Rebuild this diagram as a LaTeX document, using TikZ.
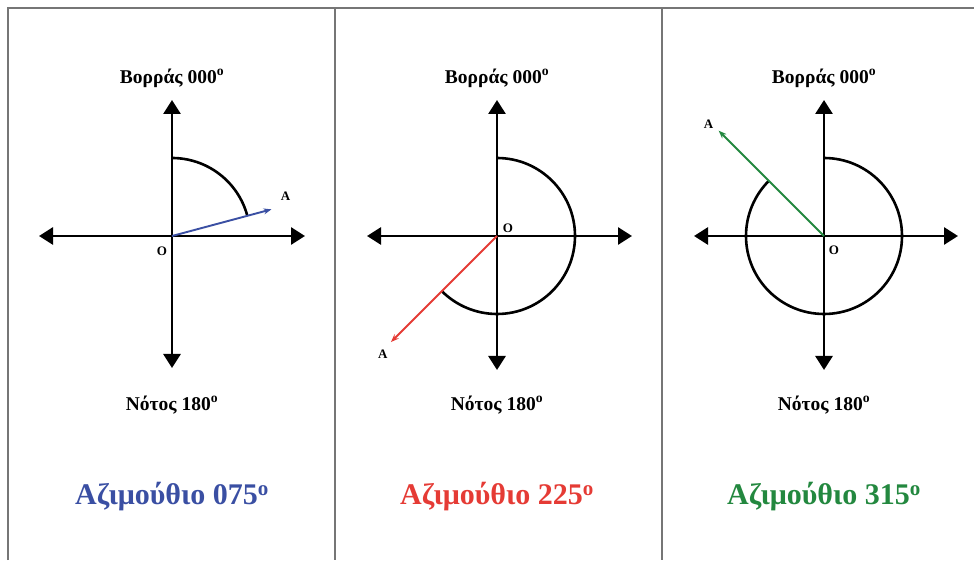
\documentclass[tikz,border=0pt]{standalone}
\usepackage{fontspec}
\setmainfont{Liberation Serif}
\usetikzlibrary{arrows.meta}
\definecolor{FrameGray}{HTML}{767676}
\definecolor{AzBlue}{HTML}{3A4FA3}
\definecolor{AzRed}{HTML}{E53B35}
\definecolor{AzGreen}{HTML}{23883F}

\begin{document}
\begin{tikzpicture}[x=1pt, y=1pt,
    frame/.style={draw=FrameGray, line width=1.8pt},
    axis/.style={line width=2.8pt, {Triangle[length=14pt,width=17pt]}-{Triangle[length=14pt,width=17pt]}},
    bearing/.style={line width=1.9pt, -{Stealth[length=8pt,width=6pt]}},
    arcline/.style={line width=2.6pt},
    dirlabel/.style={font=\fontsize{19.5}{22}\selectfont\bfseries},
    ptlabel/.style={font=\fontsize{13}{15}\selectfont\bfseries, inner sep=0},
    azlabel/.style={font=\fontsize{30}{34}\selectfont\bfseries}]
    \useasboundingbox (0,0) rectangle (974,560);
    % panels
    \draw[frame] (8,0) -- (8,552) -- (974,552);
    \draw[frame] (335,552) -- (335,0);
    \draw[frame] (662,552) -- (662,0);

    % panel 1: 075
    \coordinate (o1) at (172,324);
    \draw[axis] ([xshift=-133pt]o1) -- ([xshift=133pt]o1);
    \draw[axis] ([yshift=-132pt]o1) -- ([yshift=136pt]o1);
    \draw[arcline] ([yshift=78pt]o1) arc[start angle=90, end angle=15, radius=78pt];
    \coordinate (t1) at ([shift={(15:103pt)}]o1);
    \draw[bearing, AzBlue] (o1) -- (t1);
    \node[ptlabel] (a1) at ([shift={(14pt,13pt)}]t1) {A};
    \node[ptlabel] (on1) at ([shift={(-10pt,-15pt)}]o1) {O};
    \node[dirlabel] (n1) at ([yshift=158pt]o1) {Βορράς 000\textsuperscript{o}};
    \node[dirlabel] (s1) at ([yshift=-169pt]o1) {Νότος 180\textsuperscript{o}};
    \node[azlabel, text=AzBlue] (az1) at ([yshift=-261pt]o1) {Αζιμούθιο 075\textsuperscript{o}};

    % panel 2: 225
    \coordinate (o2) at (497,324);
    \draw[axis] ([xshift=-130pt]o2) -- ([xshift=135pt]o2);
    \draw[axis] ([yshift=-134pt]o2) -- ([yshift=136pt]o2);
    \draw[arcline] ([yshift=78pt]o2) arc[start angle=90, end angle=-135, radius=78pt];
    \coordinate (t2) at ([shift={(-135:150pt)}]o2);
    \draw[bearing, AzRed] (o2) -- (t2);
    \node[ptlabel] (a2) at ([shift={(-8pt,-12pt)}]t2) {A};
    \node[ptlabel] (on2) at ([shift={(11pt,8pt)}]o2) {O};
    \node[dirlabel] (n2) at ([yshift=158pt]o2) {Βορράς 000\textsuperscript{o}};
    \node[dirlabel] (s2) at ([yshift=-169pt]o2) {Νότος 180\textsuperscript{o}};
    \node[azlabel, text=AzRed] (az2) at ([yshift=-261pt]o2) {Αζιμούθιο 225\textsuperscript{o}};

    % panel 3: 315
    \coordinate (o3) at (824,324);
    \draw[axis] ([xshift=-130pt]o3) -- ([xshift=134pt]o3);
    \draw[axis] ([yshift=-134pt]o3) -- ([yshift=136pt]o3);
    \draw[arcline] ([yshift=78pt]o3) arc[start angle=90, end angle=-225, radius=78pt];
    \coordinate (t3) at ([shift={(135:149pt)}]o3);
    \draw[bearing, AzGreen] (o3) -- (t3);
    \node[ptlabel] (a3) at ([shift={(-10pt,6pt)}]t3) {A};
    \node[ptlabel] (on3) at ([shift={(10pt,-14pt)}]o3) {O};
    \node[dirlabel] (n3) at ([yshift=158pt]o3) {Βορράς 000\textsuperscript{o}};
    \node[dirlabel] (s3) at ([yshift=-169pt]o3) {Νότος 180\textsuperscript{o}};
    \node[azlabel, text=AzGreen] (az3) at ([yshift=-261pt]o3) {Αζιμούθιο 315\textsuperscript{o}};
  \end{tikzpicture}
\end{document}
